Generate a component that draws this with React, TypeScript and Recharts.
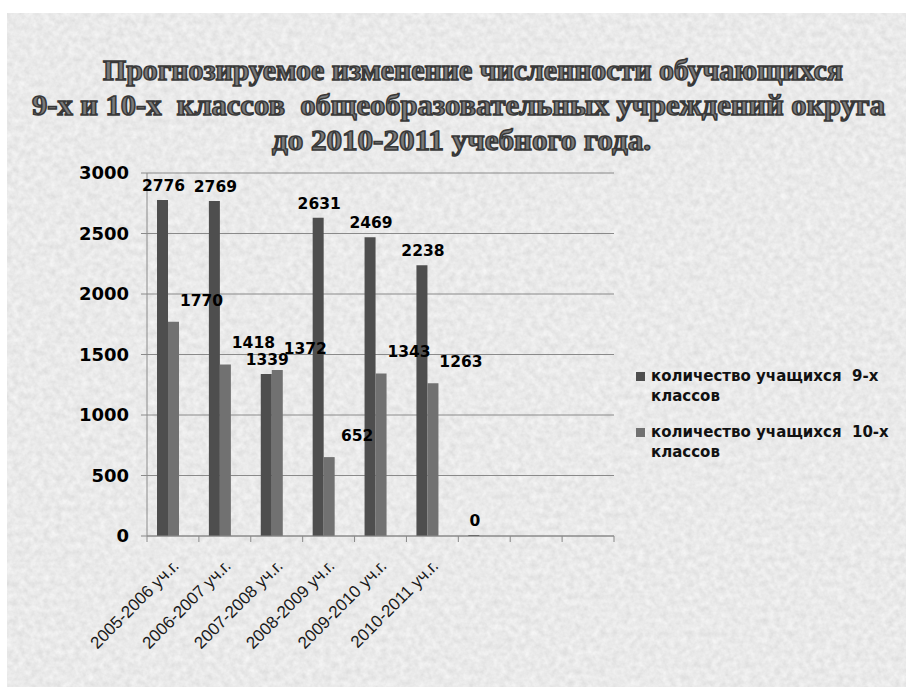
import React from "react";
import { BarChart, Bar, XAxis, YAxis, CartesianGrid, LabelList, Rectangle } from "recharts";

//#region Data

const categories = [
  "2005-2006 уч.г.",
  "2006-2007 уч.г.",
  "2007-2008 уч.г.",
  "2008-2009 уч.г.",
  "2009-2010 уч.г.",
  "2010-2011 уч.г.",
  "",
  "",
  "",
];
const grade9 = [2776, 2769, 1339, 2631, 2469, 2238, 0, null, null];
const grade10 = [1770, 1418, 1372, 652, 1343, 1263, null, null, null];
const yTicks = [0, 500, 1000, 1500, 2000, 2500, 3000];

const seriesNames = ["количество учащихся  9-х классов", "количество учащихся  10-х классов"];
const titleLines = [
  "Прогнозируемое изменение численности обучающихся",
  "9-х и 10-х  классов  общеобразовательных учреждений округа",
  "до 2010-2011 учебного года.",
];

//#endregion

const W = 906;
const H = 687;
const PLOT_LEFT = 147;
const PLOT_RIGHT = 614;
const PLOT_TOP = 173;
const PLOT_BOTTOM = 536;
const BAND = (PLOT_RIGHT - PLOT_LEFT) / categories.length;
const SHIFT = -5; // bars sit a little left of the category centre

const DARK = "#4e4e4e";
const LIGHT = "#717171";
const GRID = "#8a8a8a";

const data = categories.map((name, i) => ({ name, g9: grade9[i], g10: grade10[i] }));

const AXIS_H = 100;

// title: x-start, width, baseline
const titleBoxes = [
  { x: 103, w: 740, y: 80 },
  { x: 32, w: 853, y: 115 },
  { x: 272, w: 379, y: 150 },
];

const XTick = (props: any) => {
  const { x, y, payload, index } = props;
  const left = x - BAND / 2;
  return (
    <g>
      <line x1={left} x2={left} y1={y - 6} y2={y} stroke={GRID} />
      {index === categories.length - 1 && (
        <line x1={x + BAND / 2} x2={x + BAND / 2} y1={y - 6} y2={y} stroke={GRID} />
      )}
      <text
        x={x + 7}
        y={y + 25}
        textAnchor="end"
        transform={`rotate(-45, ${x + 7}, ${y + 25})`}
        fontFamily="'Liberation Sans', Arial, sans-serif"
        fontSize={17}
        fill="#1a1a1a"
      >
        {payload.value}
      </text>
    </g>
  );
};

const ShiftedBar = (props: any) => <Rectangle {...props} x={props.x + SHIFT} />;

const makeLabel = (values: (number | null)[], dx: number, dy: number) => (props: any) => {
  const { x, y, width, index } = props;
  const value = values[index];
  if (value === null || value === undefined) return null;
  return (
    <text
      x={x + SHIFT + width / 2 + dx}
      y={y - dy}
      textAnchor="middle"
      fontFamily="'DejaVu Sans', sans-serif"
      fontWeight="bold"
      fontSize={15.5}
      fill="#000"
    >
      {value}
    </text>
  );
};

const LegendBox = () => (
  <div
    style={{
      position: "absolute",
      left: 636,
      top: 366,
      fontFamily: "'DejaVu Sans', sans-serif",
      fontWeight: "bold",
      fontSize: 15,
      color: "#111",
      lineHeight: "20px",
    }}
  >
    {seriesNames.map((n, i) => (
      <div key={n} style={{ display: "flex", alignItems: "flex-start", marginBottom: 16 }}>
        <span
          style={{
            display: "inline-block",
            width: 9,
            height: 9,
            marginTop: 6,
            marginRight: 6,
            background: i === 0 ? DARK : LIGHT,
            flexShrink: 0,
          }}
        />
        <span style={{ width: 250, whiteSpace: "pre-wrap" }}>{n}</span>
      </div>
    ))}
  </div>
);

export default function App() {
  return (
    <div style={{ position: "absolute", left: 0, top: 0, width: W, height: H, background: "#fff", overflow: "hidden" }}>
      <svg width={W} height={H} style={{ position: "absolute", left: 0, top: 0 }}>
        <defs>
          <filter id="paper" x="0" y="0" width="100%" height="100%">
            <feTurbulence type="fractalNoise" baseFrequency="0.16" numOctaves={3} seed={7} />
            <feColorMatrix
              type="matrix"
              values="0.24 0 0 0 0.7  0.24 0 0 0 0.7  0.24 0 0 0 0.7  0 0 0 0 1"
            />
          </filter>
        </defs>
        <rect x={7} y={13} width={W - 7} height={H - 13} fill="#d2d2d2" />
        <rect x={7} y={13} width={W - 7} height={H - 13} filter="url(#paper)" />
        {titleLines.map((t, i) => (
          <text
            key={i}
            x={titleBoxes[i].x}
            y={titleBoxes[i].y}
            textLength={titleBoxes[i].w}
            lengthAdjust="spacingAndGlyphs"
            fontFamily="'Liberation Serif', 'Times New Roman', serif"
            fontWeight="bold"
            fontSize={29}
            fill="#7a7a7a"
            stroke="#383838"
            strokeWidth={1.5}
            style={{ whiteSpace: "pre" }}
          >
            {t}
          </text>
        ))}
      </svg>
      <div style={{ position: "absolute", left: 0, top: 0 }}>
        <BarChart
          width={W}
          height={H}
          data={data}
          margin={{ top: PLOT_TOP, right: W - PLOT_RIGHT, left: PLOT_LEFT - 60, bottom: H - PLOT_BOTTOM - AXIS_H }}
          barGap={0}
          barSize={11}
        >
          <CartesianGrid vertical={false} stroke={GRID} strokeWidth={1} />
          <XAxis
            dataKey="name"
            height={AXIS_H}
            stroke={GRID}
            tickLine={false}
            tickSize={6}
            tickMargin={0}
            interval={0}
            tick={<XTick />}
          />
          <YAxis
            width={60}
            domain={[0, 3000]}
            ticks={yTicks}
            interval={0}
            stroke={GRID}
            tickSize={6}
            tickMargin={12}
            tick={{ fill: "#000", fontFamily: "'DejaVu Sans', sans-serif", fontWeight: "bold", fontSize: 18 }}
          />
          <Bar
            dataKey="g9"
            name={seriesNames[0]}
            fill={DARK}
            shape={ShiftedBar}
            minPointSize={(v: any) => (v === 0 ? 1 : 0)}
            isAnimationActive={false}
          >
            <LabelList dataKey="g9" content={makeLabel(grade9, 1, 9)} />
          </Bar>
          <Bar dataKey="g10" name={seriesNames[1]} fill={LIGHT} shape={ShiftedBar} isAnimationActive={false}>
            <LabelList dataKey="g10" content={makeLabel(grade10, 28, 16)} />
          </Bar>
        </BarChart>
      </div>
      <LegendBox />
    </div>
  );
}
